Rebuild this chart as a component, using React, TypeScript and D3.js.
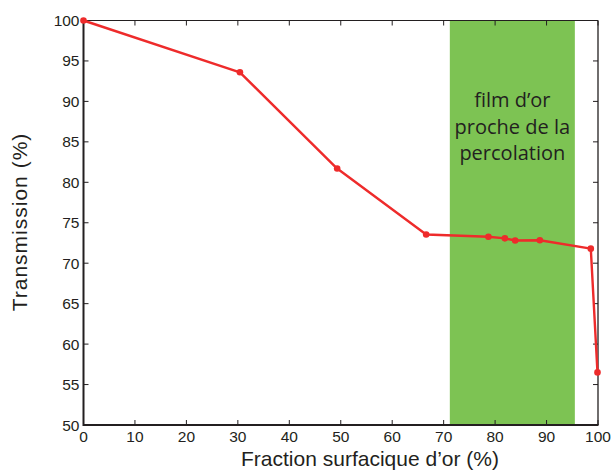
import React, { useEffect, useRef } from "react";
import * as d3 from "d3";

const fractions = [0, 30.4, 49.3, 66.6, 78.7, 81.9, 83.9, 88.7, 98.6, 99.9];
const transmissions = [100, 93.6, 81.7, 73.55, 73.27, 73.07, 72.8, 72.83, 71.8, 56.5];
const xTicks = [0, 10, 20, 30, 40, 50, 60, 70, 80, 90, 100];
const yTicks = [50, 55, 60, 65, 70, 75, 80, 85, 90, 95, 100];
const bandRange = [71.2, 95.5];
const bandLabel = ["film d\u2019or", "proche de la", "percolation"];
const xTitle = "Fraction surfacique d\u2019or (%)";
const yTitle = "Transmission (%)";

export default function App() {
  const ref = useRef<SVGSVGElement>(null);
  useEffect(() => {
    const svg = d3.select(ref.current);
    svg.selectAll("*").remove();
    const L = 83.5, R = 598, T = 20.5, B = 425;
    const x = d3.scaleLinear().domain([0, 100]).range([L, R]);
    const y = d3.scaleLinear().domain([50, 100]).range([B, T]);
    const axisColor = "#231f20";
    const font = "'Liberation Sans', Arial, sans-serif";

    // band
    svg.append("rect")
      .attr("x", x(bandRange[0])).attr("y", T)
      .attr("width", x(bandRange[1]) - x(bandRange[0])).attr("height", B - T)
      .attr("fill", "#7dc353");

    const bx = (x(bandRange[0]) + x(bandRange[1])) / 2;
    svg.append("g").selectAll("text").data(bandLabel).join("text")
      .attr("x", bx).attr("y", (d, i) => 107 + i * 26.5)
      .attr("text-anchor", "middle")
      .attr("font-family", "'Open Sans', 'Noto Sans', sans-serif")
      .attr("font-size", 20).attr("fill", "#231f20")
      .text(d => d);

    // frame: top and right thin
    svg.append("line").attr("x1", L).attr("x2", R).attr("y1", T).attr("y2", T)
      .attr("stroke", axisColor).attr("stroke-width", 1);
    svg.append("line").attr("x1", R).attr("x2", R).attr("y1", T).attr("y2", B)
      .attr("stroke", axisColor).attr("stroke-width", 1.3);

    // ticks inward
    const tl = 5;
    const g = svg.append("g").attr("stroke", axisColor).attr("stroke-width", 1);
    xTicks.forEach(t => {
      g.append("line").attr("x1", x(t)).attr("x2", x(t)).attr("y1", B).attr("y2", B - tl);
      g.append("line").attr("x1", x(t)).attr("x2", x(t)).attr("y1", T).attr("y2", T + tl);
    });
    yTicks.forEach(t => {
      g.append("line").attr("x1", L).attr("x2", L + tl).attr("y1", y(t)).attr("y2", y(t));
      g.append("line").attr("x1", R).attr("x2", R - tl).attr("y1", y(t)).attr("y2", y(t));
    });

    // bottom and left thick
    svg.append("line").attr("x1", L).attr("x2", R + 0.5).attr("y1", B).attr("y2", B)
      .attr("stroke", axisColor).attr("stroke-width", 2);
    svg.append("line").attr("x1", L).attr("x2", L).attr("y1", T).attr("y2", B + 1)
      .attr("stroke", axisColor).attr("stroke-width", 2);

    // tick labels
    svg.append("g").selectAll("text").data(xTicks).join("text")
      .attr("x", d => x(d)).attr("y", B + 17)
      .attr("text-anchor", "middle").attr("font-family", font)
      .attr("font-size", 15.5).attr("fill", axisColor).text(d => d);
    svg.append("g").selectAll("text").data(yTicks).join("text")
      .attr("x", L - 4).attr("y", d => y(d) + 5.5)
      .attr("text-anchor", "end").attr("font-family", font)
      .attr("font-size", 15.5).attr("fill", axisColor).text(d => d);

    // titles
    svg.append("text").attr("x", 370).attr("y", 466)
      .attr("text-anchor", "middle").attr("font-family", font)
      .attr("font-size", 21).attr("fill", axisColor).text(xTitle);
    svg.append("text")
      .attr("transform", `translate(27,222) rotate(-90)`)
      .attr("text-anchor", "middle").attr("font-family", font)
      .attr("font-size", 21).attr("letter-spacing", 1)
      .attr("fill", axisColor).text(yTitle);

    // data
    const data = fractions.map((f, i) => [f, transmissions[i]] as [number, number]);
    const line = d3.line<[number, number]>().x(d => x(d[0])).y(d => y(d[1]));
    svg.append("path").datum(data).attr("d", line)
      .attr("fill", "none").attr("stroke", "#ee2b2b").attr("stroke-width", 2.4)
      .attr("stroke-linejoin", "round");
    svg.append("g").selectAll("circle").data(data).join("circle")
      .attr("cx", d => x(d[0])).attr("cy", d => y(d[1])).attr("r", 3.3)
      .attr("fill", "#ee2b2b");
  }, []);
  return (
    <svg ref={ref} width={611} height={470}
      style={{ position: "absolute", left: 0, top: 0, background: "#fff" }} />
  );
}
